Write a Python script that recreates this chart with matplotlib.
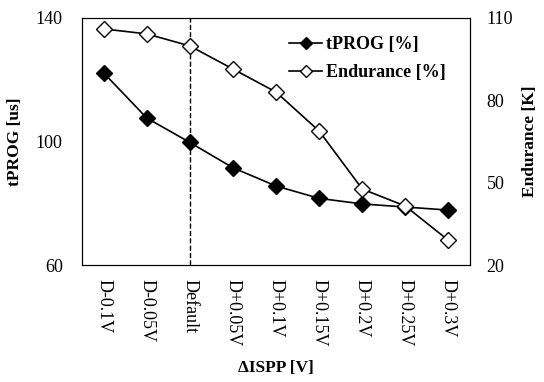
import numpy as np
import matplotlib.pyplot as plt

plt.rcParams['font.family'] = ['Liberation Serif', 'DejaVu Serif']

labels = ['D-0.1V', 'D-0.05V', 'Default', 'D+0.05V', 'D+0.1V',
          'D+0.15V', 'D+0.2V', 'D+0.25V', 'D+0.3V']
tprog = [122.2, 107.6, 99.7, 91.5, 85.6, 81.6, 79.8, 78.8, 77.8]
endurance = [106.0, 104.2, 99.8, 91.4, 83.0, 68.8, 47.7, 41.5, 29.0]

x = np.arange(len(labels))

fig = plt.figure(figsize=(5.44, 3.82), dpi=100)
ax = fig.add_axes([0.151, 0.306, 0.713, 0.647])
ax2 = ax.twinx()

l1, = ax.plot(x, tprog, color='black', lw=1.2, marker='D', ms=8,
              mfc='black', mec='black', label='tPROG [%]')
l2, = ax2.plot(x, endurance, color='black', lw=1.2, marker='D', ms=8,
               mfc='white', mec='black', label='Endurance [%]')
ax.axvline(2, color='black', ls='--', lw=1)

ax.set_xlim(-0.5, 8.5)
ax.set_ylim(60, 140)
ax.set_yticks([60, 100, 140])
ax2.set_ylim(20, 110)
ax2.set_yticks([20, 50, 80, 110])

ax.set_xticks(x)
ax.set_xticklabels(labels, rotation=270, fontsize=13)
ax.tick_params(axis='x', length=0, labelsize=13, pad=10)
ax.tick_params(axis='y', length=0, labelsize=13, pad=14)
ax2.tick_params(axis='y', length=0, labelsize=13, pad=12)

ax.set_ylabel('tPROG [us]', fontsize=12.5, fontweight='bold', labelpad=9)
ax2.set_ylabel('Endurance [K]', fontsize=12.5, fontweight='bold', labelpad=6)
ax.set_xlabel('ΔISPP [V]', fontsize=12.5, fontweight='bold', labelpad=10)

ax.legend(handles=[l1, l2], loc='upper right', frameon=False,
          prop={'weight': 'bold', 'size': 13}, handlelength=1.8,
          handletextpad=0.25, labelspacing=0.6, borderaxespad=0.6,
          markerscale=0.8, bbox_to_anchor=(0.985, 1.0))

fig.savefig('out.png', dpi=100)
